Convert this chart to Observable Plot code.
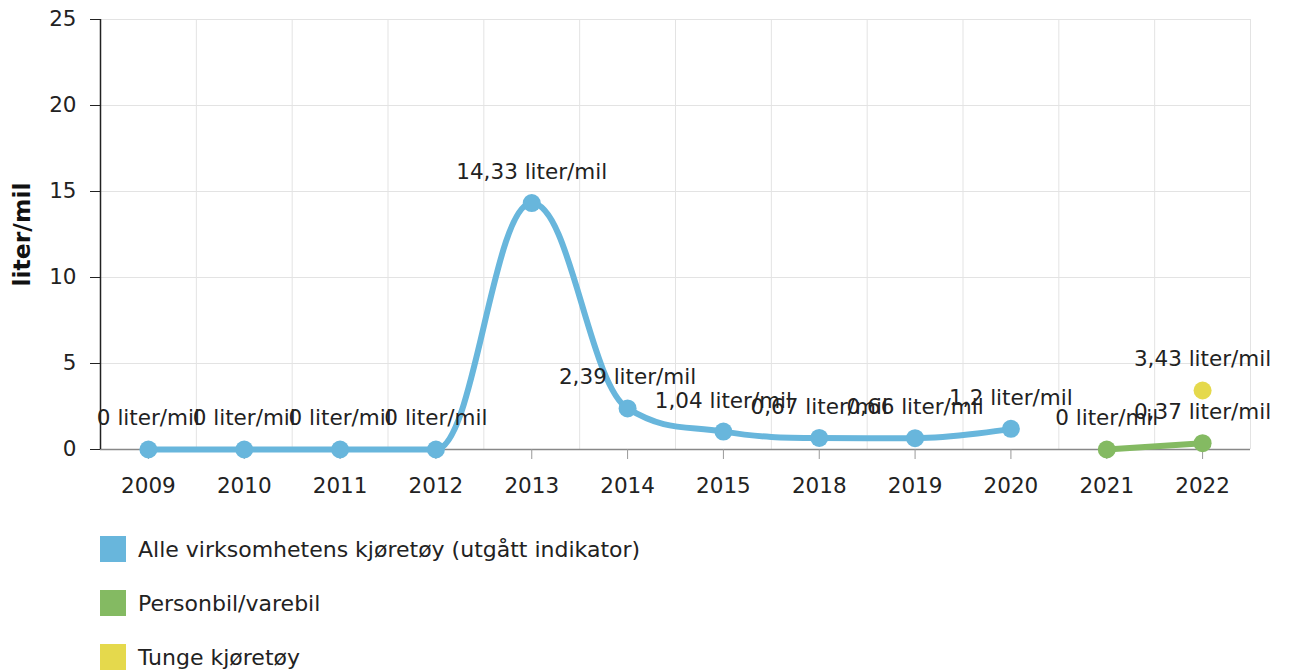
<!DOCTYPE html>
<html>
<head>
<meta charset="utf-8">
<script src="https://cdn.jsdelivr.net/npm/d3@7"></script>
<script src="https://cdn.jsdelivr.net/npm/@observablehq/plot@0.6"></script>
<style>
  html, body { margin: 0; padding: 0; background: #fff; }
  body { font-family: "DejaVu Sans", Verdana, sans-serif; width: 1289px; height: 670px; overflow: hidden; }
  #legend { margin-left: 100px; margin-top: 26px; }
  .item { display: flex; align-items: center; height: 26px; margin-bottom: 28px; font-size: 22px; color: #222; }
  .sw { width: 26px; height: 26px; margin-right: 12px; flex: none; }
</style>
</head>
<body>
<div id="chart"></div>
<div id="legend"></div>
<script>
const years = ["2009","2010","2011","2012","2013","2014","2015","2018","2019","2020","2021","2022"];
const blueYears = ["2009","2010","2011","2012","2013","2014","2015","2018","2019","2020"];
const blueValues = [0, 0, 0, 0, 14.33, 2.39, 1.04, 0.67, 0.66, 1.2];
const greenYears = ["2021","2022"];
const greenValues = [0, 0.37];
const yellowYears = ["2022"];
const yellowValues = [3.43];
const seriesNames = ["Alle virksomhetens kjøretøy (utgått indikator)", "Personbil/varebil", "Tunge kjøretøy"];
const seriesColors = ["#68b6dc", "#84ba62", "#e5d94c"];
const yTicks = [0, 5, 10, 15, 20, 25];
const unit = "liter/mil";

const mk = (ys, vs) => ys.map((y, i) => ({year: y, value: vs[i]}));
const blue = mk(blueYears, blueValues);
const green = mk(greenYears, greenValues);
const yellow = mk(yellowYears, yellowValues);
const all = [...blue, ...green, ...yellow];
const fmt = d => String(d.value).replace(".", ",") + " " + unit;

// Highcharts-style spline as a d3 curve factory
function splineCurve(context) {
  let pts = [];
  return {
    areaStart() {}, areaEnd() {},
    lineStart() { pts = []; },
    point(x, y) { pts.push([+x, +y]); },
    lineEnd() {
      const n = pts.length;
      if (!n) return;
      const s = 1.5, den = s + 1;
      const rc = pts.map(p => [p[0], p[1]]);
      const lc = pts.map(p => [p[0], p[1]]);
      for (let i = 1; i < n - 1; i++) {
        const [px, py] = pts[i], [lx, ly] = pts[i - 1], [nx, ny] = pts[i + 1];
        let lcx = (s * px + lx) / den, lcy = (s * py + ly) / den;
        let rcx = (s * px + nx) / den, rcy = (s * py + ny) / den;
        let corr = 0;
        if (rcx !== lcx) corr = ((rcy - lcy) * (rcx - px)) / (rcx - lcx) + py - rcy;
        lcy += corr; rcy += corr;
        if (lcy > ly && lcy > py) { lcy = Math.max(ly, py); rcy = 2 * py - lcy; }
        else if (lcy < ly && lcy < py) { lcy = Math.min(ly, py); rcy = 2 * py - lcy; }
        if (rcy > ny && rcy > py) { rcy = Math.max(ny, py); lcy = 2 * py - rcy; }
        else if (rcy < ny && rcy < py) { rcy = Math.min(ny, py); lcy = 2 * py - rcy; }
        lc[i] = [lcx, lcy]; rc[i] = [rcx, rcy];
      }
      context.moveTo(pts[0][0], pts[0][1]);
      for (let i = 1; i < n; i++) {
        context.bezierCurveTo(rc[i - 1][0], rc[i - 1][1], lc[i][0], lc[i][1], pts[i][0], pts[i][1]);
      }
    }
  };
}

const W = 1289, mL = 100, mR = 39;
const step = (W - mL - mR) / years.length;
const FS = 21.5;

const chart = Plot.plot({
  width: W,
  height: 510,
  marginLeft: mL,
  marginRight: mR,
  marginTop: 19,
  marginBottom: 61,
  style: {fontFamily: "DejaVu Sans, Verdana, sans-serif", color: "#222", background: "#fff"},
  x: {type: "point", domain: years, padding: 0.5, round: false, label: null},
  y: {domain: [0, 25], label: null},
  marks: [
    Plot.gridY(yTicks, {stroke: "#e3e3e3", strokeOpacity: 1}),
    Plot.ruleX(years, {dx: -step / 2, stroke: "#e3e3e3", strokeOpacity: 1}),
    Plot.ruleX(years.slice(-1), {dx: step / 2, stroke: "#e3e3e3", strokeOpacity: 1}),
    Plot.ruleY([0], {stroke: "#888", strokeWidth: 1.5}),
    Plot.ruleX(years.slice(0, 1), {dx: -step / 2, y1: 0, y2: 25, stroke: "#222", strokeWidth: 1.5}),
    Plot.axisY(yTicks, {tickSize: 10, tickPadding: 14, fontSize: FS, stroke: "#222", label: null}),
    Plot.axisX({tickSize: 10, tickPadding: 18, fontSize: FS, stroke: "#999", fill: "#222", label: null}),
    Plot.text([unit], {frameAnchor: "left", textAnchor: "middle", dx: -78, rotate: -90, fontSize: 23.5, fontWeight: "bold", fill: "#111"}),
    Plot.line(blue, {x: "year", y: "value", stroke: seriesColors[0], strokeWidth: 6, curve: splineCurve}),
    Plot.line(green, {x: "year", y: "value", stroke: seriesColors[1], strokeWidth: 6}),
    Plot.dot(blue, {x: "year", y: "value", r: 9, fill: seriesColors[0]}),
    Plot.dot(green, {x: "year", y: "value", r: 9, fill: seriesColors[1]}),
    Plot.dot(yellow, {x: "year", y: "value", r: 9, fill: seriesColors[2]}),
    Plot.text(all, {x: "year", y: "value", text: fmt, dy: -31, fontSize: FS, fill: "#222"})
  ]
});
document.getElementById("chart").appendChild(chart);

const legend = document.getElementById("legend");
seriesNames.forEach((n, i) => {
  const it = document.createElement("div");
  it.className = "item";
  it.innerHTML = `<div class="sw" style="background:${seriesColors[i]}"></div><span>${n}</span>`;
  legend.appendChild(it);
});
</script>
</body>
</html>
